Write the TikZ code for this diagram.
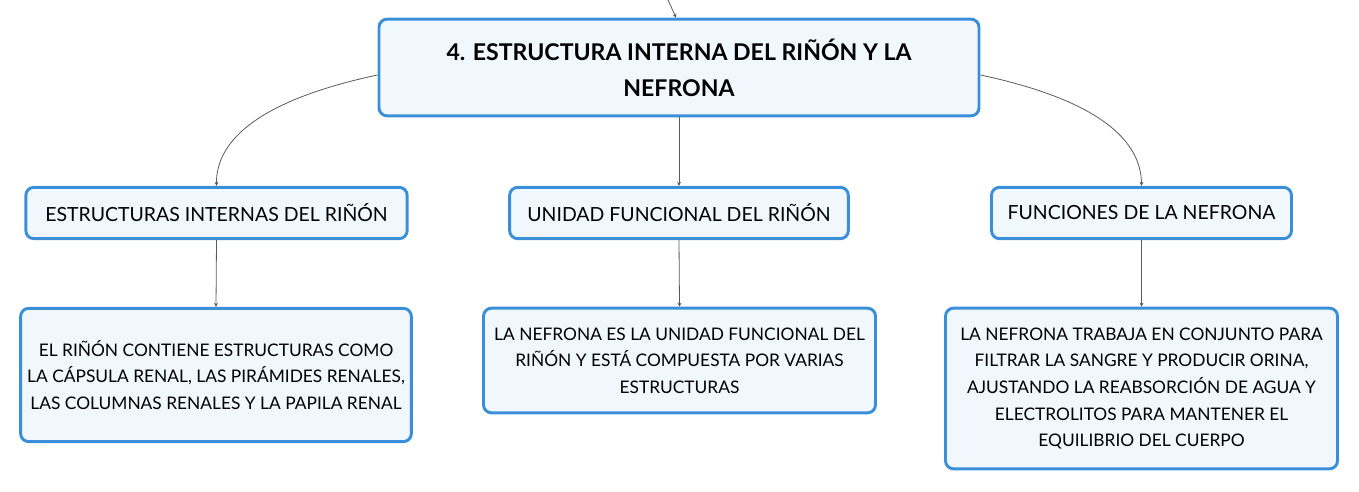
\documentclass[tikz,border=0pt]{standalone}
\usepackage{fontspec}
\setmainfont{Lato}
\usetikzlibrary{arrows.meta}
\definecolor{bordo}{RGB}{59,143,217}
\definecolor{riemp}{RGB}{240,247,253}
\definecolor{filo}{RGB}{90,90,90}

\begin{document}
\begin{tikzpicture}[x=0.75pt,y=-0.75pt,>={Stealth[length=3pt,width=3pt]},
  box/.style={draw=bordo,fill=riemp,line width=2.2pt,rounded corners=6pt,align=center,inner sep=0pt},
  link/.style={draw=filo,line width=0.6pt,->}]
\useasboundingbox (0,0) rectangle (1359,492);
% nodo centrale
\node[box,minimum width=450pt,minimum height=72.5pt,font=\fontsize{17.3}{27}\selectfont\bfseries] (main) at (679,67.5)
  {4. ESTRUCTURA INTERNA DEL RIÑÓN Y LA\\NEFRONA};
\coordinate (sopra) at (668,0);
% secondo livello
\node[box,minimum width=286pt,minimum height=38.5pt,font=\fontsize{14.6}{16}\selectfont] (sx) at (216.5,213) {ESTRUCTURAS INTERNAS DEL RIÑÓN};
\node[box,minimum width=254pt,minimum height=38.5pt,font=\fontsize{14.6}{16}\selectfont] (cx) at (679,213) {UNIDAD FUNCIONAL DEL RIÑÓN};
\node[box,minimum width=225pt,minimum height=38.5pt,font=\fontsize{14.6}{16}\selectfont] (dx) at (1141.5,213) {FUNCIONES DE LA NEFRONA};
% foglie
\node[box,minimum width=293pt,minimum height=100pt,font=\fontsize{13}{19.9}\selectfont] (sxf) at (216,375)
  {EL RIÑÓN CONTIENE ESTRUCTURAS COMO\\LA CÁPSULA RENAL, LAS PIRÁMIDES RENALES,\\LAS COLUMNAS RENALES Y LA PAPILA RENAL};
\node[box,minimum width=294pt,minimum height=78.5pt,font=\fontsize{13}{19.9}\selectfont] (cxf) at (679.5,360.5)
  {LA NEFRONA ES LA UNIDAD FUNCIONAL DEL\\RIÑÓN Y ESTÁ COMPUESTA POR VARIAS\\ESTRUCTURAS};
\node[box,minimum width=294pt,minimum height=120.5pt,font=\fontsize{13}{19.9}\selectfont] (dxf) at (1141.5,388.5)
  {LA NEFRONA TRABAJA EN CONJUNTO PARA\\FILTRAR LA SANGRE Y PRODUCIR ORINA,\\AJUSTANDO LA REABSORCIÓN DE AGUA Y\\ELECTROLITOS PARA MANTENER EL\\EQUILIBRIO DEL CUERPO};
% collegamenti
\draw[link] (sopra) .. controls (672,8) .. (main.north -| 676,0);
\draw[link] (main.west |- 0,75) .. controls (260,100) and (216,140) .. (sx.north);
\draw[link] (main.east |- 0,75) .. controls (1098,100) and (1141,140) .. (dx.north);
\draw[link] (main.south) -- (cx.north);
\draw[link] (sx.south) -- (sxf.north);
\draw[link] (cx.south) -- (cxf.north);
\draw[link] (dx.south) -- (dxf.north);
\end{tikzpicture}
\end{document}
